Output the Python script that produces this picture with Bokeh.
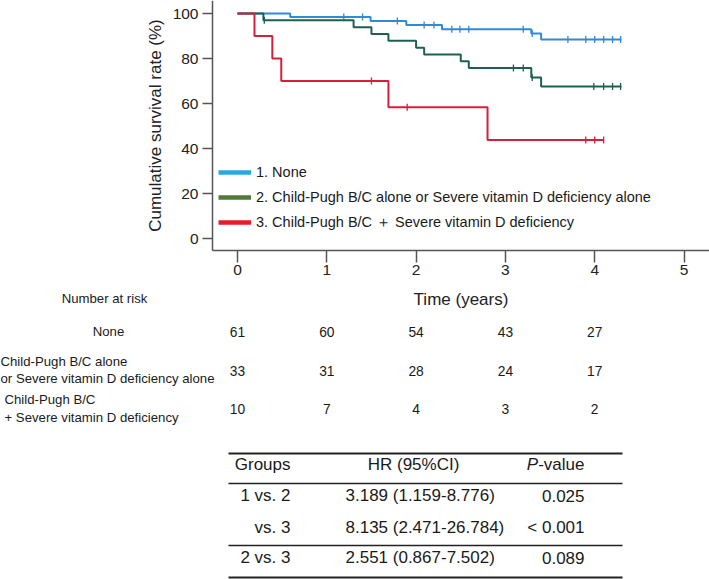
import numpy as np
from bokeh.plotting import figure
from bokeh.models import Range1d, Legend, LegendItem, LinearAxis, FixedTicker
from bokeh.embed import file_html
from bokeh.resources import INLINE
from bokeh.core.properties import value

# ---------------- data ----------------
group_names = ["1. None",
               "2. Child-Pugh B/C alone or Severe vitamin D deficiency alone",
               "3. Child-Pugh B/C \uff0b Severe vitamin D deficiency"]

none_event_t = [0.59, 1.49, 1.89, 2.29, 3.29, 3.40]
none_event_s = [98.4, 96.7, 94.9, 93.0, 91.1, 88.4]
none_censor_t = [1.19, 1.40, 1.79, 2.09, 2.20, 2.40, 2.49, 2.59, 3.20, 3.30,
                 3.70, 3.90, 4.00, 4.10, 4.20, 4.29]
none_end = 4.30

mid_event_t = [0.29, 1.30, 1.50, 1.69, 2.00, 2.09, 2.50, 2.59, 3.29, 3.40]
mid_event_s = [97.0, 93.9, 90.9, 87.9, 84.8, 81.8, 78.8, 75.8, 71.6, 67.6]
mid_censor_t = [0.30, 3.09, 3.20, 3.30, 3.99, 4.10, 4.20, 4.29]
mid_end = 4.30

both_event_t = [0.19, 0.39, 0.49, 1.69, 2.80]
both_event_s = [90.0, 80.0, 70.0, 58.3, 43.8]
both_censor_t = [1.50, 1.90, 3.90, 4.00, 4.10]
both_end = 4.10

x_ticks = [0, 1, 2, 3, 4, 5]
y_ticks = [0, 20, 40, 60, 80, 100]

risk_times = [0, 1, 2, 3, 4]
risk_none = [61, 60, 54, 43, 27]
risk_mid = [33, 31, 28, 24, 17]
risk_both = [10, 7, 4, 3, 2]
risk_labels = ["None",
               ["Child-Pugh B/C alone", "or Severe vitamin D deficiency alone"],
               ["Child-Pugh B/C", "+ Severe vitamin D deficiency"]]

hr_header = ["Groups", "HR (95%CI)", "P", "-value"]
hr_groups = ["1 vs. 2", "vs. 3", "2 vs. 3"]
hr_values = ["3.189 (1.159-8.776)", "8.135 (2.471-26.784)", "2.551 (0.867-7.502)"]
p_values = ["0.025", "< 0.001", "0.089"]

# ---------------- style / geometry ----------------
curve_colors = ["#2f8ad8", "#1f5f52", "#d4203c"]
legend_colors = ["#25a9e6", "#4f7a38", "#e31e24"]
FONT = "Liberation Sans"
TXT = "#1a1a1a"
AX = "#555555"

W, H = 709, 579
PX0 = 237.0      # pixel of t = 0
PXU = 89.3       # pixels per year
PY100 = 13.0     # pixel of 100 %
PYU = 2.25       # pixels per percent


def tx(px):
    return (px - PX0) / PXU


def ty(py):
    return 100 - (py - PY100) / PYU


def km_steps(ev_t, ev_s, end):
    xs = [0.0] + list(ev_t) + [end]
    ys = [100.0] + list(ev_s) + [ev_s[-1]]
    return xs, ys


def surv_at(ev_t, ev_s, ts):
    idx = np.searchsorted(np.array(ev_t), np.array(ts), side="right")
    levels = np.concatenate([[100.0], ev_s])
    return list(levels[idx])


p = figure(width=W, height=H, x_range=Range1d(tx(0), tx(W)),
           y_range=Range1d(ty(H), ty(0)), toolbar_location=None,
           output_backend="svg", min_border=0,
           x_axis_location=None, y_axis_location=None)
p.grid.visible = False
p.outline_line_color = None

x_axis_y = ty(250)
y_axis_x = tx(212)

xaxis = LinearAxis(fixed_location=x_axis_y, bounds=(y_axis_x, tx(W)),
                   ticker=FixedTicker(ticks=x_ticks), axis_label="Time (years)")
yaxis = LinearAxis(fixed_location=y_axis_x, bounds=(x_axis_y, ty(0)),
                   ticker=FixedTicker(ticks=y_ticks),
                   axis_label="Cumulative survival rate (%)")
for ax in (xaxis, yaxis):
    ax.axis_line_color = AX
    ax.axis_line_width = 1.5
    ax.major_tick_line_color = AX
    ax.major_tick_line_width = 1.5
    ax.major_tick_in = 0
    ax.minor_tick_line_color = None
    ax.major_label_text_font = FONT
    ax.major_label_text_font_size = "15.5px"
    ax.major_label_text_color = "#222222"
    ax.axis_label_text_font = FONT
    ax.axis_label_text_font_size = "17px"
    ax.axis_label_text_font_style = "normal"
    ax.axis_label_text_color = "#222222"
xaxis.major_tick_out = 12
yaxis.major_tick_out = 10
xaxis.major_label_standoff = 2
yaxis.major_label_standoff = 4
xaxis.axis_label_standoff = 12
yaxis.axis_label_standoff = 5
p.add_layout(xaxis, "below")
p.add_layout(yaxis, "left")

groups = [
    (none_event_t, none_event_s, none_censor_t, none_end),
    (mid_event_t, mid_event_s, mid_censor_t, mid_end),
    (both_event_t, both_event_s, both_censor_t, both_end),
]
for (et, es, ct, end), col in zip(groups, curve_colors):
    xs, ys = km_steps(et, es, end)
    p.step(xs, ys, mode="after", line_color=col, line_width=2)
    p.scatter(ct, surv_at(et, es, ct), marker="dash", angle=np.pi / 2,
              size=7, line_color=col, line_width=1.3)

items = []
for name, col in zip(group_names, legend_colors):
    r = p.line([tx(0), tx(0)], [ty(H + 50), ty(H + 50)], line_color=col, line_width=4.5)
    items.append(LegendItem(label=name, renderers=[r]))
legend = Legend(items=items, location=(218, H - 232), padding=0, margin=0,
                spacing=5, glyph_height=20, label_height=20, glyph_width=33,
                label_standoff=5, label_text_font=FONT,
                label_text_font_size="14.5px", label_text_color=TXT,
                background_fill_alpha=0, border_line_color=None)
p.add_layout(legend)


def txt(xs, ys_px, t, align="left", size="17px", style="normal"):
    p.text(x=xs, y=[ty(v) for v in ys_px], text=t, text_align=align,
           text_baseline="middle", text_font=value(FONT),
           text_font_size=value(size), text_font_style=style, text_color=TXT)


# ---------------- number at risk ----------------
rs = "13.2px"
txt([tx(104)], [298], ["Number at risk"], "center", rs)
row_y = [331, 370, 408]
txt([tx(108)], [row_y[0]], [risk_labels[0]], "center", rs)
txt([tx(0)] * 2, [361, 378], risk_labels[1], "left", rs)
txt([tx(4)] * 2, [399, 417], risk_labels[2], "left", rs)
for yy, vals in zip(row_y, [risk_none, risk_mid, risk_both]):
    txt(risk_times, [yy] * len(risk_times), [str(v) for v in vals], "center", "13.8px")

# ---------------- HR table ----------------
tl, tr = tx(228), tx(622)
p.segment(x0=[tl, tl], x1=[tr, tr], y0=[ty(453), ty(577)], y1=[ty(453), ty(577)],
          line_color="#222222", line_width=2)
p.segment(x0=[tl, tl], x1=[tr, tr], y0=[ty(483), ty(545)], y1=[ty(483), ty(545)],
          line_color="#222222", line_width=1.4)

hy = 464
rows_y = [495, 527, 557]
txt([tx(290)], [hy], [hr_header[0]], "right")
txt([tx(413)], [hy], [hr_header[1]], "center")
txt([tx(584 - 46.3)], [hy], [hr_header[2]], "right", style="italic")
txt([tx(584)], [hy], [hr_header[3]], "right")
txt([tx(290)] * 3, rows_y, hr_groups, "right")
txt([tx(345)] * 3, rows_y, hr_values, "left")
txt([tx(584)] * 3, rows_y, p_values, "right")

open("out.html", "w").write(file_html(p, INLINE))
